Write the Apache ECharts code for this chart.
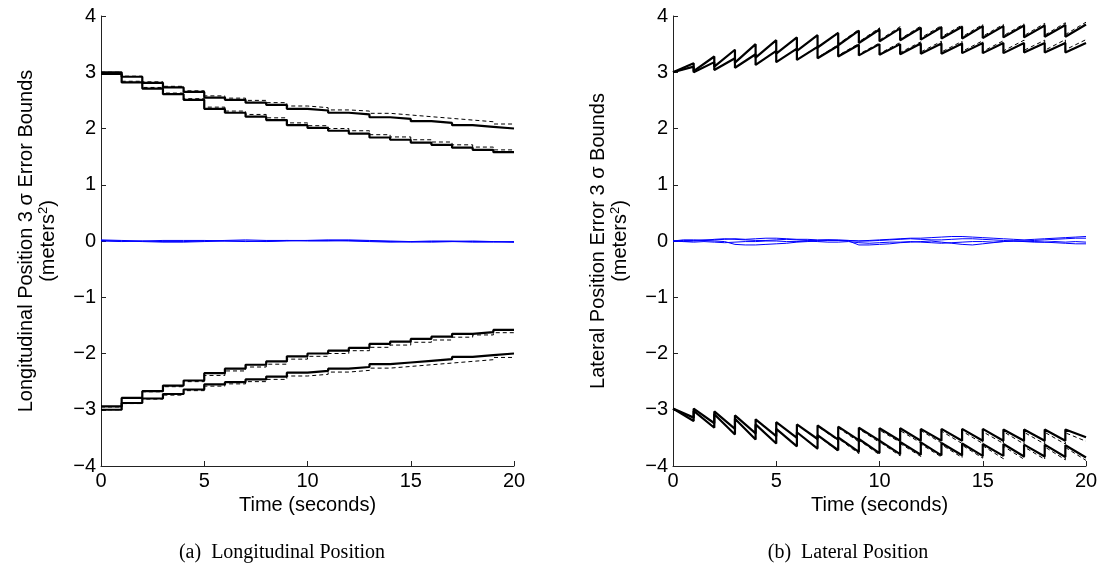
<!DOCTYPE html>
<html>
<head>
<meta charset="utf-8">
<script src="https://cdn.jsdelivr.net/npm/echarts@6/dist/echarts.min.js"></script>
<style>
  html, body { margin: 0; padding: 0; background: #fff; }
  #chart { width: 1105px; height: 575px; }
</style>
</head>
<body>
<div id="chart"></div>
<script>
// Time bases (seconds)
const tSec = [0,1,2,3,4,5,6,7,8,9,10,11,12,13,14,15,16,17,18,19,20];
const tHalf = [0,0.5,1,1.5,2,2.5,3,3.5,4,4.5,5,5.5,6,6.5,7,7.5,8,8.5,9,9.5,10,
               10.5,11,11.5,12,12.5,13,13.5,14,14.5,15,15.5,16,16.5,17,17.5,18,18.5,19,19.5,20];
const yTicks = [-4,-3,-2,-1,0,1,2,3,4];

// (a) Longitudinal: 3-sigma bounds held over each 1 s interval
const lonUpperOuter = [3.00,2.92,2.81,2.73,2.65,2.55,2.51,2.46,2.42,2.35,2.32,2.28,2.25,2.20,2.17,2.13,2.10,2.06,2.03,2.00];
const lonUpperInner = [2.97,2.82,2.71,2.61,2.51,2.35,2.28,2.21,2.15,2.06,2.01,1.96,1.91,1.84,1.80,1.75,1.71,1.66,1.62,1.58];
const lonLowerOuter = [-3.00,-2.88,-2.80,-2.72,-2.64,-2.55,-2.51,-2.46,-2.41,-2.34,-2.31,-2.27,-2.24,-2.19,-2.16,-2.13,-2.10,-2.06,-2.03,-2.00];
const lonLowerInner = [-2.94,-2.79,-2.67,-2.57,-2.48,-2.35,-2.27,-2.20,-2.14,-2.05,-2.00,-1.95,-1.90,-1.83,-1.79,-1.74,-1.70,-1.65,-1.62,-1.58];
// predicted bounds (dashed)
const lonUpperOuterPred = [3.00,2.93,2.83,2.75,2.67,2.58,2.54,2.50,2.46,2.40,2.37,2.33,2.31,2.27,2.24,2.21,2.18,2.15,2.12,2.08];
const lonUpperInnerPred = [2.97,2.84,2.73,2.63,2.53,2.38,2.31,2.25,2.19,2.10,2.05,2.00,1.96,1.89,1.85,1.80,1.76,1.71,1.67,1.62];
const lonLowerOuterPred = [-3.00,-2.89,-2.81,-2.74,-2.66,-2.58,-2.54,-2.50,-2.46,-2.40,-2.37,-2.33,-2.30,-2.26,-2.23,-2.20,-2.17,-2.14,-2.11,-2.07];
const lonLowerInnerPred = [-2.95,-2.80,-2.68,-2.59,-2.50,-2.39,-2.31,-2.24,-2.19,-2.10,-2.05,-2.00,-1.95,-1.89,-1.85,-1.80,-1.76,-1.71,-1.67,-1.63];
// estimation errors (blue)
const lonErr1 = [0.02,0.01,0.00,-0.01,-0.01,0.00,0.01,0.02,0.01,0.01,0.00,0.00,0.01,0.00,-0.01,-0.02,-0.01,-0.01,0.00,-0.01,-0.02];
const lonErr2 = [0.01,0.00,-0.01,-0.02,-0.02,-0.01,0.00,0.00,-0.01,0.00,0.01,0.01,0.00,-0.01,-0.02,-0.01,-0.02,-0.01,-0.02,-0.02,-0.01];
const lonErr3 = [0.00,-0.01,0.00,0.01,0.01,0.01,0.00,-0.01,0.00,0.01,0.01,0.02,0.02,0.01,0.00,-0.01,0.00,0.00,-0.01,-0.01,-0.02];

// (b) Lateral: bounds grow over each interval, reset at each update
const latUpperOuterStart = [3.00,3.02,3.10,3.17,3.26,3.33,3.38,3.44,3.48,3.52,3.55,3.57,3.58,3.60,3.60,3.61,3.62,3.62,3.63,3.63];
const latUpperOuterEnd   = [3.16,3.28,3.40,3.50,3.57,3.62,3.66,3.70,3.74,3.76,3.78,3.79,3.80,3.81,3.82,3.82,3.83,3.83,3.84,3.85];
const latUpperInnerStart = [3.00,3.00,3.04,3.08,3.13,3.18,3.22,3.25,3.28,3.30,3.31,3.32,3.33,3.33,3.34,3.34,3.34,3.35,3.35,3.35];
const latUpperInnerEnd   = [3.10,3.18,3.25,3.32,3.38,3.42,3.45,3.47,3.49,3.50,3.50,3.51,3.51,3.51,3.52,3.52,3.52,3.52,3.52,3.52];
const latLowerOuterStart = [-2.98,-3.02,-3.08,-3.16,-3.26,-3.34,-3.40,-3.45,-3.49,-3.52,-3.55,-3.57,-3.58,-3.59,-3.60,-3.61,-3.61,-3.62,-3.62,-3.63];
const latLowerOuterEnd   = [-3.20,-3.32,-3.44,-3.53,-3.60,-3.65,-3.69,-3.72,-3.75,-3.77,-3.79,-3.80,-3.81,-3.81,-3.82,-3.82,-3.83,-3.83,-3.84,-3.85];
const latLowerInnerStart = [-2.98,-2.98,-3.03,-3.10,-3.17,-3.22,-3.26,-3.28,-3.30,-3.32,-3.33,-3.33,-3.34,-3.34,-3.34,-3.34,-3.35,-3.35,-3.35,-3.35];
const latLowerInnerEnd   = [-3.14,-3.24,-3.34,-3.42,-3.47,-3.50,-3.52,-3.53,-3.54,-3.55,-3.55,-3.55,-3.55,-3.55,-3.55,-3.55,-3.55,-3.55,-3.55,-3.49];
// predicted bounds (dashed)
const latUpperOuterPredStart = [3.00,3.02,3.10,3.17,3.26,3.33,3.38,3.44,3.50,3.54,3.57,3.59,3.61,3.63,3.63,3.64,3.65,3.65,3.66,3.67];
const latUpperOuterPredEnd   = [3.16,3.28,3.40,3.50,3.57,3.62,3.66,3.71,3.76,3.79,3.81,3.82,3.83,3.84,3.85,3.85,3.86,3.87,3.88,3.89];
const latUpperInnerPredStart = [3.00,3.00,3.04,3.08,3.13,3.18,3.22,3.26,3.30,3.32,3.33,3.35,3.36,3.36,3.37,3.37,3.38,3.39,3.39,3.40];
const latUpperInnerPredEnd   = [3.10,3.18,3.25,3.32,3.38,3.42,3.46,3.49,3.51,3.52,3.53,3.54,3.55,3.55,3.56,3.56,3.57,3.57,3.58,3.58];
const latLowerOuterPredStart = [-2.98,-3.02,-3.08,-3.16,-3.26,-3.34,-3.40,-3.46,-3.51,-3.54,-3.57,-3.60,-3.61,-3.62,-3.63,-3.64,-3.65,-3.66,-3.66,-3.67];
const latLowerOuterPredEnd   = [-3.20,-3.32,-3.44,-3.53,-3.60,-3.65,-3.70,-3.74,-3.78,-3.80,-3.82,-3.83,-3.84,-3.85,-3.86,-3.87,-3.88,-3.88,-3.89,-3.90];
const latLowerInnerPredStart = [-2.98,-2.98,-3.03,-3.10,-3.17,-3.22,-3.26,-3.29,-3.32,-3.34,-3.36,-3.37,-3.37,-3.38,-3.38,-3.39,-3.39,-3.40,-3.40,-3.41];
const latLowerInnerPredEnd   = [-3.14,-3.24,-3.34,-3.42,-3.47,-3.50,-3.53,-3.55,-3.57,-3.58,-3.58,-3.59,-3.59,-3.60,-3.60,-3.60,-3.61,-3.61,-3.61,-3.56];
// estimation errors (blue), sampled every 0.5 s
const latErr1 = [0.00,0.01,0.01,0.02,0.02,0.03,0.04,0.03,0.04,0.05,0.05,0.04,0.03,0.03,0.02,0.02,0.01,0.01,0.00,0.01,0.02,0.03,0.04,0.05,0.05,0.06,0.07,0.08,0.08,0.07,0.06,0.05,0.04,0.03,0.02,0.03,0.04,0.05,0.06,0.07,0.08];
const latErr2 = [0.00,-0.01,0.00,0.01,0.00,-0.01,-0.06,-0.07,-0.07,-0.06,-0.05,-0.04,-0.02,-0.01,0.00,0.01,0.01,0.00,-0.07,-0.07,-0.06,-0.05,-0.03,-0.02,-0.01,0.00,-0.02,-0.04,-0.06,-0.07,-0.05,-0.03,-0.01,0.00,0.00,-0.01,-0.02,-0.03,-0.04,-0.05,-0.05];
const latErr3 = [0.00,0.02,0.02,0.01,0.03,0.04,0.03,0.02,0.01,0.01,0.02,0.03,0.02,0.01,0.01,0.02,0.02,0.01,0.00,0.00,0.01,0.02,0.03,0.04,0.03,0.02,0.02,0.03,0.04,0.04,0.03,0.02,0.01,0.00,0.00,0.01,0.02,0.03,0.04,0.05,0.05];
const latErr4 = [0.00,-0.01,-0.02,-0.01,-0.02,-0.03,-0.02,-0.01,-0.01,0.00,0.00,-0.01,-0.01,0.00,-0.01,-0.02,-0.02,-0.01,-0.03,-0.04,-0.03,-0.02,-0.02,-0.01,-0.02,-0.03,-0.04,-0.03,-0.02,-0.01,-0.01,-0.02,-0.01,0.00,-0.01,-0.02,-0.02,-0.01,-0.02,-0.01,-0.02];

const FONT = '"Liberation Sans", Arial, Helvetica, sans-serif';
const SERIF = '"Liberation Serif", "Times New Roman", serif';

// held value over each interval [k, k+1]
function heldData(vals) {
  return tSec.map((t, i) => [t, vals[Math.min(i, vals.length - 1)]]);
}
// linear growth over each interval, jump at each integer second
function sawData(starts, ends) {
  const out = [];
  for (let k = 0; k < starts.length; k++) {
    out.push([tSec[k], starts[k]]);
    out.push([tSec[k + 1], ends[k]]);
  }
  return out;
}
function pairData(ts, vals) { return ts.map((t, i) => [t, vals[i]]); }

function solid(data, axis, step) {
  return { type: 'line', data, xAxisIndex: axis, yAxisIndex: axis, step: step ? 'end' : false,
    symbol: 'none', lineStyle: { color: '#000', width: 2.2 }, z: 3, silent: true };
}
function dashed(data, axis, step) {
  return { type: 'line', data, xAxisIndex: axis, yAxisIndex: axis, step: step ? 'end' : false,
    symbol: 'none', lineStyle: { color: '#000', width: 1, type: [4, 3] }, z: 4, silent: true };
}
function blue(data, axis) {
  return { type: 'line', data, xAxisIndex: axis, yAxisIndex: axis,
    symbol: 'none', lineStyle: { color: '#0000ff', width: 1 }, z: 2, silent: true };
}

const axisCol = '#222';
function xAx(gi) {
  return {
    type: 'value', gridIndex: gi, min: 0, max: 20, interval: 5,
    name: 'Time (seconds)', nameLocation: 'middle', nameGap: 27,
    nameTextStyle: { fontFamily: FONT, fontSize: 20, color: '#000' },
    axisLine: { show: true, onZero: false, lineStyle: { color: axisCol, width: 1 } },
    axisTick: { show: true, inside: true, length: 5, lineStyle: { color: axisCol } },
    axisLabel: { fontFamily: FONT, fontSize: 20, color: '#000', margin: 5 },
    splitLine: { show: false }
  };
}
function yAx(gi, title) {
  return {
    type: 'value', gridIndex: gi, min: -4, max: 4, interval: 1,
    name: '{a|' + title + '}\n{a|(meters}{s|2}{a|)}', nameLocation: 'middle', nameGap: 42, nameRotate: 90,
    nameTextStyle: {
      rich: {
        a: { fontFamily: FONT, fontSize: 20, color: '#000', lineHeight: 22 },
        s: { fontFamily: FONT, fontSize: 13, color: '#000', verticalAlign: 'top', lineHeight: 22 }
      }
    },
    axisLine: { show: true, onZero: false, lineStyle: { color: axisCol, width: 1 } },
    axisTick: { show: true, inside: true, length: 5, lineStyle: { color: axisCol } },
    axisLabel: { fontFamily: FONT, fontSize: 20, color: '#000', margin: 5,
      formatter: v => String(v).replace('-', '\u2212') },
    splitLine: { show: false }
  };
}

const series = [
  // (a)
  blue(pairData(tSec, lonErr1), 0), blue(pairData(tSec, lonErr2), 0), blue(pairData(tSec, lonErr3), 0),
  dashed(heldData(lonUpperOuterPred), 0, true), dashed(heldData(lonUpperInnerPred), 0, true),
  dashed(heldData(lonLowerOuterPred), 0, true), dashed(heldData(lonLowerInnerPred), 0, true),
  solid(heldData(lonUpperOuter), 0, true), solid(heldData(lonUpperInner), 0, true),
  solid(heldData(lonLowerOuter), 0, true), solid(heldData(lonLowerInner), 0, true),
  // (b)
  blue(pairData(tHalf, latErr1), 1), blue(pairData(tHalf, latErr2), 1),
  blue(pairData(tHalf, latErr3), 1), blue(pairData(tHalf, latErr4), 1),
  dashed(sawData(latUpperOuterPredStart, latUpperOuterPredEnd), 1), dashed(sawData(latUpperInnerPredStart, latUpperInnerPredEnd), 1),
  dashed(sawData(latLowerOuterPredStart, latLowerOuterPredEnd), 1), dashed(sawData(latLowerInnerPredStart, latLowerInnerPredEnd), 1),
  solid(sawData(latUpperOuterStart, latUpperOuterEnd), 1), solid(sawData(latUpperInnerStart, latUpperInnerEnd), 1),
  solid(sawData(latLowerOuterStart, latLowerOuterEnd), 1), solid(sawData(latLowerInnerStart, latLowerInnerEnd), 1)
];

const chart = echarts.init(document.getElementById('chart'), null, { renderer: 'canvas' });
chart.setOption({
  animation: false,
  backgroundColor: '#fff',
  grid: [
    { left: 101, top: 16, width: 413, height: 450 },
    { left: 673, top: 16, width: 413, height: 450 }
  ],
  xAxis: [xAx(0), xAx(1)],
  yAxis: [yAx(0, 'Longitudinal Position 3 \u03c3 Error Bounds'), yAx(1, 'Lateral Position Error 3 \u03c3 Bounds')],
  series,
  graphic: [
    { type: 'text', x: 282, y: 553, style: { text: '(a)  Longitudinal Position', font: '20px ' + SERIF, fill: '#000', align: 'center', verticalAlign: 'middle' } },
    { type: 'text', x: 848, y: 553, style: { text: '(b)  Lateral Position', font: '20px ' + SERIF, fill: '#000', align: 'center', verticalAlign: 'middle' } }
  ]
});
</script>
</body>
</html>
